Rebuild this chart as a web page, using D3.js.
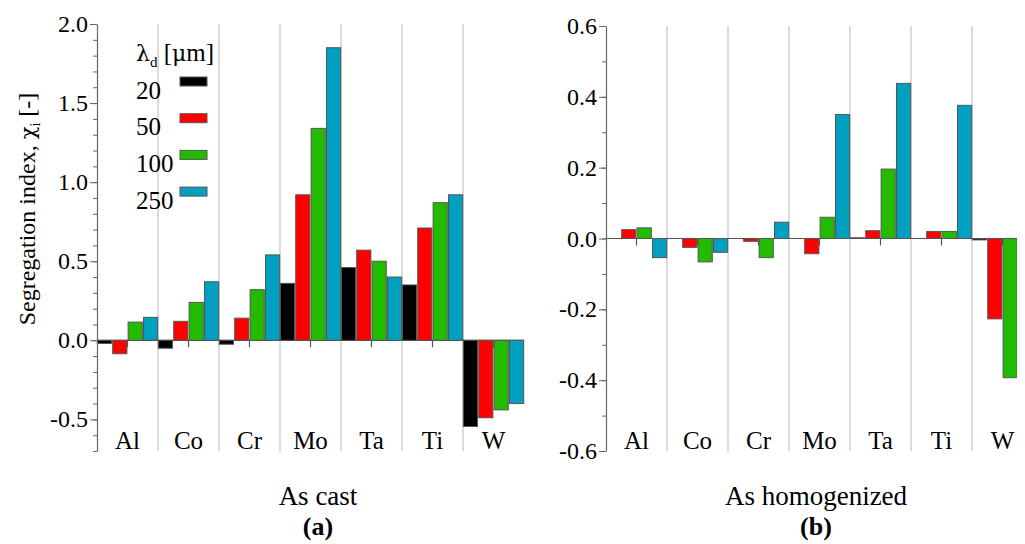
<!DOCTYPE html>
<html><head><script src="https://d3js.org/d3.v7.min.js"></script></head>
<body><svg id="chart" width="1025" height="544"></svg>
<script>
    // elements and secondary dendrite arm spacing
    const categories = ["Al", "Co", "Cr", "Mo", "Ta", "Ti", "W"];
    const series = ["20", "50", "100", "250"];
    const colors = ["#000000", "#ff0000", "#22bb00", "#00a0c0"];

    // (a) as cast
    const cast20  = [-0.02, -0.05, -0.025, 0.36, 0.46, 0.35, -0.545];
    const cast50  = [-0.085, 0.12, 0.14, 0.92, 0.57, 0.71, -0.49];
    const cast100 = [0.115, 0.24, 0.32, 1.34, 0.50, 0.87, -0.44];
    const cast250 = [0.145, 0.37, 0.54, 1.85, 0.40, 0.92, -0.40];

    // (b) as homogenized
    const homog20  = [0, 0, 0, 0, 0.002, 0, -0.004];
    const homog50  = [0.025, -0.025, -0.008, -0.043, 0.022, 0.02, -0.227];
    const homog100 = [0.03, -0.066, -0.054, 0.06, 0.196, 0.02, -0.393];
    const homog250 = [-0.054, -0.039, 0.046, 0.35, 0.438, 0.376, -0.469];

    const leftTicks = [-0.5, 0.0, 0.5, 1.0, 1.5, 2.0];
    const rightTicks = [-0.6, -0.4, -0.2, 0.0, 0.2, 0.4, 0.6];

    const serif = '"Liberation Serif"';
    const greek = '"DejaVu Serif"';

    var svg = d3.select('#chart');

    // plain hyphen for negatives, like the original figure
    let fmt = v => v.toFixed(1);

    let drawPanel = function(cfg){
        let x = d3.scaleBand().domain(categories).range([cfg.x0, cfg.x1]);
        let xs = d3.scaleBand().domain(series).range([0, x.bandwidth()])
            .paddingInner(0.08).paddingOuter(0.02);
        let y = d3.scaleLinear().domain(cfg.domain).range([cfg.yBottom, cfg.yTop]);

        // vertical separators between elements
        svg.selectAll("line.grid" + cfg.id)
            .data(categories.slice(1))
            .enter()
            .append("line")
            .attr("x1", d => x(d))
            .attr("x2", d => x(d))
            .attr("y1", cfg.yTop)
            .attr("y2", cfg.yBottom)
            .attr("stroke", "#cfcfcf")
            .attr("stroke-width", 1.5);

        // zero line and element ticks
        svg.append("line")
            .attr("x1", cfg.x0).attr("x2", cfg.x1)
            .attr("y1", y(0)).attr("y2", y(0))
            .attr("stroke", "#555").attr("stroke-width", 1.2);
        svg.selectAll("line.ctick" + cfg.id)
            .data(categories)
            .enter()
            .append("line")
            .attr("x1", d => x(d) + x.bandwidth() / 2)
            .attr("x2", d => x(d) + x.bandwidth() / 2)
            .attr("y1", y(0))
            .attr("y2", y(0) + 7)
            .attr("stroke", "#555").attr("stroke-width", 1.2);

        // bars
        cfg.values.forEach((vals, si) => {
            svg.selectAll("rect.s" + cfg.id + si)
                .data(vals)
                .enter()
                .append("rect")
                .attr("x", (d, i) => x(categories[i]) + xs(series[si]))
                .attr("width", xs.bandwidth())
                .attr("y", d => y(Math.max(0, d)))
                .attr("height", d => Math.abs(y(d) - y(0)))
                .attr("fill", colors[si])
                .attr("stroke", "#555")
                .attr("stroke-width", 1);
        });

        // y axis: ticks drawn by the d3 axis, labels as plain svg texts
        let minor = d3.range(Math.round(cfg.domain[0] * 10), Math.round(cfg.domain[1] * 10) + 1).map(v => v / 10);
        svg.append("g")
            .attr("transform", `translate(${cfg.x0},0)`)
            .call(d3.axisLeft(y).tickValues(minor).tickSize(4).tickFormat(""))
            .call(a => a.select(".domain").remove())
            .selectAll("line").attr("stroke", "#666");
        let yAxis = svg.append("g")
            .attr("transform", `translate(${cfg.x0},0)`)
            .call(d3.axisLeft(y).tickValues(cfg.ticks).tickSize(7).tickSizeOuter(0).tickFormat(""));
        yAxis.select(".domain").attr("stroke", "#666").attr("stroke-width", 1.2);
        yAxis.selectAll(".tick line").attr("stroke", "#666");

        svg.selectAll("text.tick" + cfg.id)
            .data(cfg.ticks)
            .enter()
            .append("text")
            .attr("x", cfg.x0 - 9)
            .attr("y", d => y(d) + 8)
            .attr("text-anchor", "end")
            .attr("font-family", serif)
            .attr("font-size", 24)
            .text(fmt);

        // element labels
        svg.selectAll("text.cat" + cfg.id)
            .data(categories)
            .enter()
            .append("text")
            .attr("x", d => x(d) + x.bandwidth() / 2)
            .attr("y", cfg.yBottom - 2)
            .attr("text-anchor", "middle")
            .attr("font-family", serif)
            .attr("font-size", 25)
            .text(d => d);

        // panel captions
        let cx = cfg.captionX;
        svg.append("text").attr("x", cx).attr("y", 497)
            .attr("text-anchor", "middle")
            .attr("font-family", serif).attr("font-size", 27)
            .text(cfg.caption);
        svg.append("text").attr("x", cx).attr("y", 527)
            .attr("text-anchor", "middle")
            .attr("font-family", serif).attr("font-size", 26)
            .attr("font-weight", "bold")
            .text(cfg.letter);
    };

    drawPanel({
        id: "a", x0: 89, x1: 516, yTop: 16, yBottom: 443,
        domain: [-0.7, 2.0], ticks: leftTicks,
        values: [cast20, cast50, cast100, cast250],
        caption: "As cast", letter: "(a)", captionX: 310
    });

    drawPanel({
        id: "b", x0: 598, x1: 1025, yTop: 18, yBottom: 443,
        domain: [-0.6, 0.6], ticks: rightTicks,
        values: [homog20, homog50, homog100, homog250],
        caption: "As homogenized", letter: "(b)", captionX: 808
    });

    // y axis title
    let title = svg.append("text")
        .attr("transform", "translate(27,201) rotate(-90)")
        .attr("text-anchor", "middle")
        .attr("font-family", serif)
        .attr("font-size", 24);
    title.append("tspan").text("Segregation index, ");
    title.append("tspan").attr("font-family", greek).attr("font-size", 21).text("\u03c7");
    title.append("tspan").attr("font-size", 14).attr("dy", 5).text("i");
    title.append("tspan").attr("dy", -5).text(" [-]");

    // legend
    let head = svg.append("text").attr("x", 128).attr("y", 53)
        .attr("font-family", serif).attr("font-size", 25);
    head.append("tspan").attr("font-family", greek).attr("font-size", 22).text("\u03bb");
    head.append("tspan").attr("font-size", 15).attr("dy", 6).text("d");
    head.append("tspan").attr("dy", -6).text(" [");
    head.append("tspan").attr("font-family", greek).attr("font-size", 22).text("\u03bc");
    head.append("tspan").text("m]");

    series.forEach((s, i) => {
        let cy = 73.5 + i * 36.7;
        svg.append("rect")
            .attr("x", 172).attr("y", cy - 4.5)
            .attr("width", 27).attr("height", 9)
            .attr("fill", colors[i])
            .attr("stroke", "#555").attr("stroke-width", 1);
        svg.append("text")
            .attr("x", 128).attr("y", cy + 17)
            .attr("font-family", serif)
            .attr("font-size", 25)
            .text(s);
    });
</script></body></html>
